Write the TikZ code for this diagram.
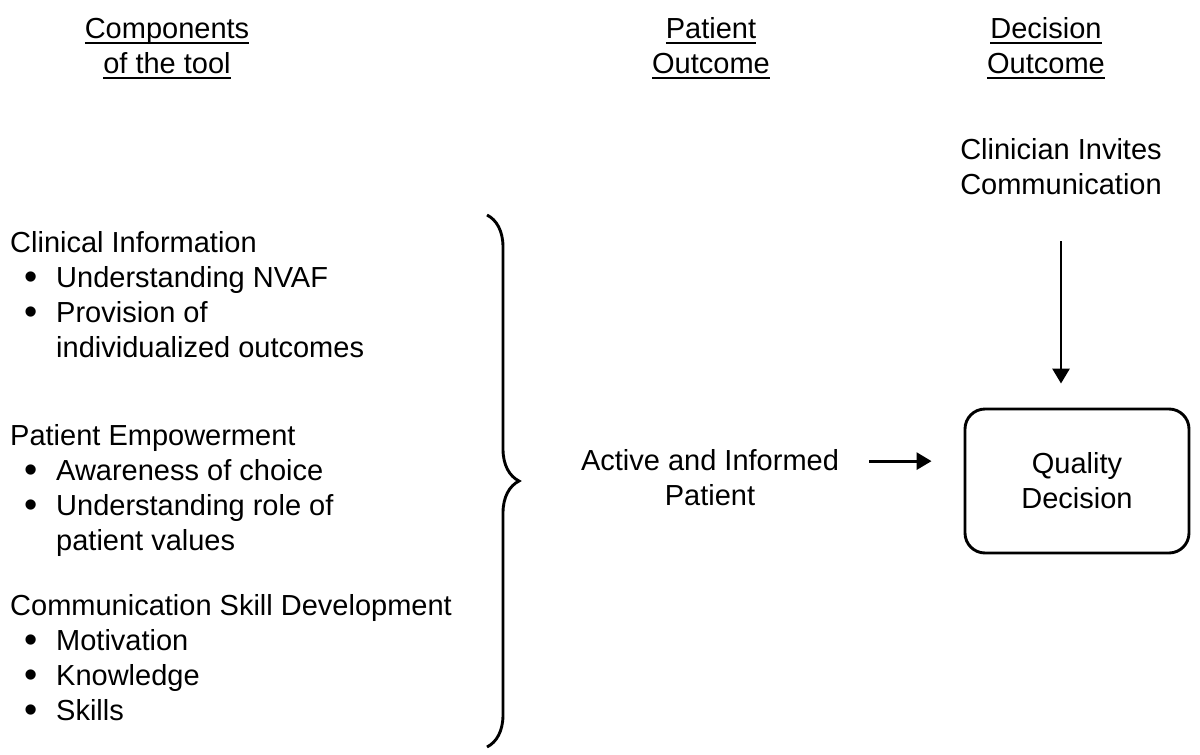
\documentclass[tikz,border=0pt]{standalone}
\usepackage{fontspec}
\setmainfont{Liberation Sans}
\usetikzlibrary{arrows.meta, decorations.pathreplacing, positioning}
\newlength{\ulw}
\newcommand{\uln}[1]{\settowidth{\ulw}{#1}\rlap{\rule[-6pt]{\ulw}{2.2pt}}#1}
\newcommand{\itm}{\hspace*{14pt}\makebox[32pt][l]{\raisebox{-2pt}{\scalebox{1.3}{\textbullet}}}}

\begin{document}
\begin{tikzpicture}[x=1pt, y=-1pt,
        txt/.style={inner sep=0pt, font=\fontsize{29}{35}\selectfont},
        arrow/.style={-{Triangle[length=15pt, width=17pt]}, line width=2.9pt}]
        \useasboundingbox (0,0) rectangle (1200,755);

        \node[txt, align=center, anchor=base] at (167, 73)   (comp) {\uln{Components}\\\uln{of the tool}};
        \node[txt, align=center, anchor=base] at (711, 73)   (pout) {\uln{Patient}\\\uln{Outcome}};
        \node[txt, align=center, anchor=base] at (1046, 73)  (dout) {\uln{Decision}\\\uln{Outcome}};

        \node[txt, align=left, anchor=base west] at (10, 357) (clinfo) {Clinical Information\\\itm Understanding NVAF\\\itm Provision of\\\hspace*{46pt}individualized outcomes};
        \node[txt, align=left, anchor=base west] at (10, 550) (empow) {Patient Empowerment\\\itm Awareness of choice\\\itm Understanding role of\\\hspace*{46pt}patient values};
        \node[txt, align=left, anchor=base west] at (10, 720) (skill) {Communication Skill Development\\\itm Motivation\\\itm Knowledge\\\itm Skills};

        \coordinate (bt) at (487, 215);
        \coordinate (bb) at (487, 747);
        \draw[line width=2.9pt, decorate, decoration={brace, amplitude=32pt}] (bt) -- (bb);

        \node[txt, align=center, anchor=base] at (710, 505)  (patient) {Active and Informed\\Patient};
        \node[txt, align=center, anchor=base] at (1061, 194) (clin) {Clinician Invites\\Communication};
        \node[txt, align=center, draw, line width=2.9pt, rounded corners=20pt, minimum width=224pt, minimum height=144pt] at (1077, 481) (qual) {Quality\\Decision};

        \draw[arrow, shorten <=30pt, shorten >=32pt] ([yshift=16pt]patient.east) -- ([yshift=16pt]patient.east -| qual.west);
        \draw[arrow, shorten <=47pt, shorten >=24pt] (clin.south) -- (clin.south |- qual.north);
\end{tikzpicture}
\end{document}
